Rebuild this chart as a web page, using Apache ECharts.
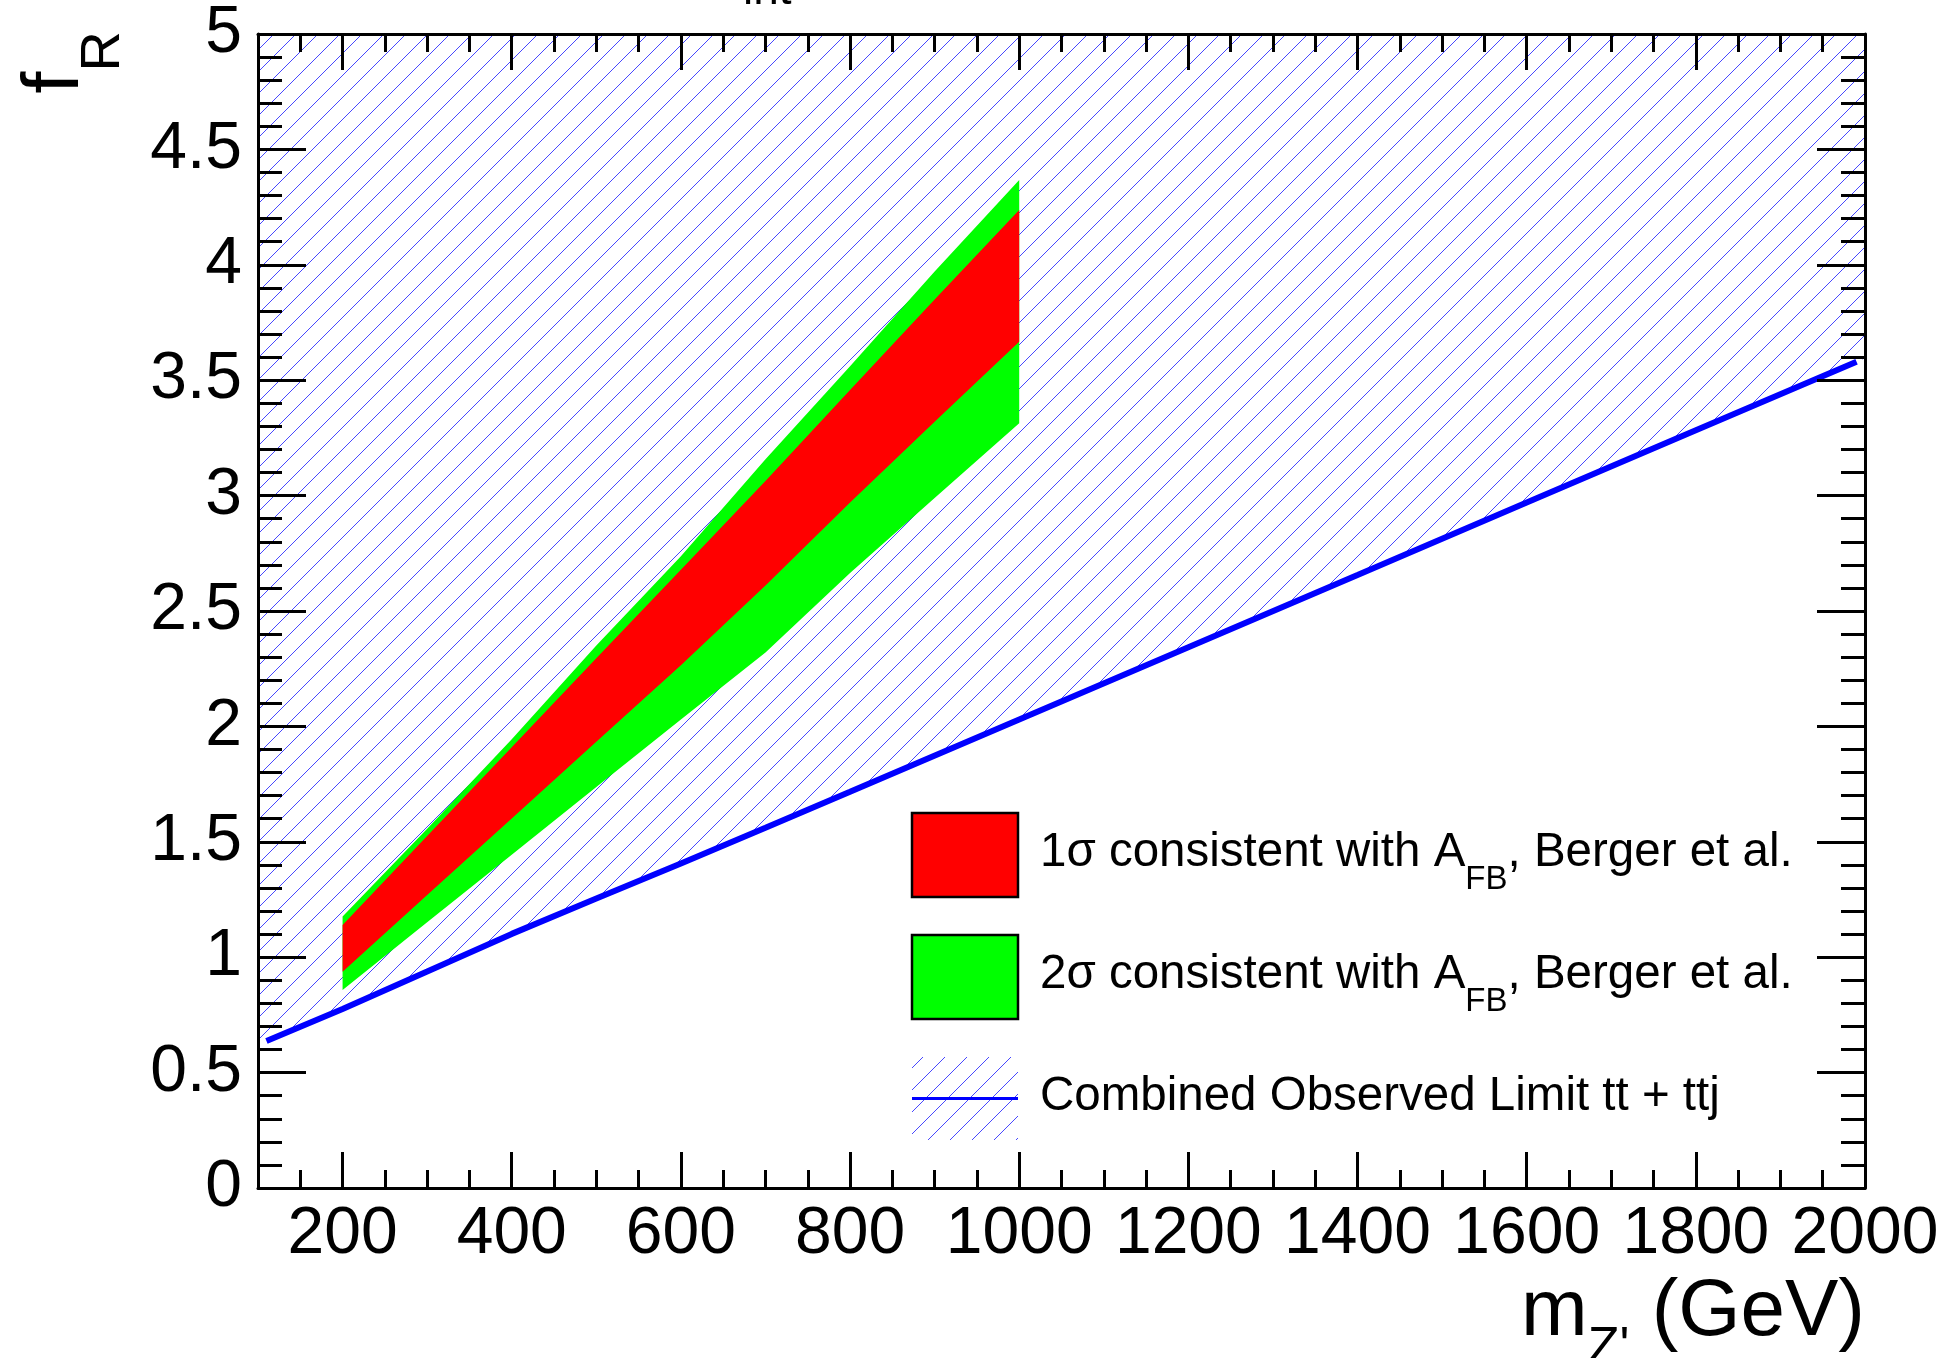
<!DOCTYPE html>
<html>
<head>
<meta charset="utf-8">
<title>f_R vs m_Z'</title>
<script src="https://cdn.jsdelivr.net/npm/echarts@6/dist/echarts.min.js"></script>
<style>
  html, body { margin: 0; padding: 0; background: #ffffff; }
  #chart { width: 1953px; height: 1358px; }
</style>
</head>
<body>
<div id="chart"></div>
<script>
// Z' masses (GeV) at which the A_FB-consistent region is evaluated
const bandMass = [200, 300, 400, 500, 600, 700, 800, 900, 1000];
// 2 sigma band (upper / lower edge in f_R)
const sigma2High = [1.176, 1.557, 1.944, 2.351, 2.737, 3.157, 3.560, 3.971, 4.367];
const sigma2Low  = [0.858, 1.151, 1.444, 1.737, 2.030, 2.320, 2.665, 2.990, 3.313];
// 1 sigma band (upper / lower edge in f_R)
const sigma1High = [1.140, 1.525, 1.910, 2.295, 2.679, 3.063, 3.458, 3.850, 4.237];
const sigma1Low  = [0.937, 1.269, 1.601, 1.933, 2.265, 2.611, 2.970, 3.320, 3.667];

// Combined observed limit tt + ttj
const limitMass = [110, 200, 300, 400, 500, 600, 700, 800, 1000, 1200, 1400, 1600, 1800, 1990];
const limitF    = [0.637, 0.776, 0.938, 1.101, 1.254, 1.406, 1.561, 1.717, 2.030, 2.343, 2.656, 2.970, 3.283, 3.580];

// Axis tick labels
const massTicks = [200, 400, 600, 800, 1000, 1200, 1400, 1600, 1800, 2000];
const fTicks = [0, 0.5, 1, 1.5, 2, 2.5, 3, 3.5, 4, 4.5, 5];

const MASS_MIN = 100, MASS_MAX = 2000, F_MIN = 0, F_MAX = 5;
const FONT = '"Liberation Sans", Arial, Helvetica, sans-serif';

// minor tick positions
const massMinor = [];
for (let v = 150; v < MASS_MAX; v += 50) massMinor.push(v);
const fMinor = [];
for (let i = 1; i < 50; i++) fMinor.push(i / 10);

// diagonal hatch used for the excluded region
function makeHatchTile() {
  const size = 22;
  const c = document.createElement('canvas');
  c.width = size; c.height = size;
  const ctx = c.getContext('2d');
  ctx.strokeStyle = 'rgba(0, 0, 255, 0.72)';
  ctx.lineWidth = 1;
  for (const k of [-size, 0, size]) {
    ctx.beginPath();
    ctx.moveTo(-2 + k, size + 2);
    ctx.lineTo(size + 2 + k, -2);
    ctx.stroke();
  }
  return c;
}
const hatchFill = { image: makeHatchTile(), repeat: 'repeat' };

const tickStyle = { color: '#000', width: 3 };
const labelStyle = { fontFamily: FONT, fontSize: 66, color: '#000' };

function massAxis(position, tickValues, tickLen, withLabels, withLine) {
  return {
    type: 'value', position, min: MASS_MIN, max: MASS_MAX, z: 10,
    axisLine: { show: withLine, onZero: false, lineStyle: tickStyle },
    axisTick: { show: true, inside: true, length: tickLen, customValues: tickValues, lineStyle: tickStyle },
    axisLabel: withLabels
      ? Object.assign({ show: true, customValues: massTicks, margin: 14, formatter: v => String(v) }, labelStyle)
      : { show: false },
    splitLine: { show: false }
  };
}
function fAxis(position, tickValues, tickLen, withLabels, withLine) {
  return {
    type: 'value', position, min: F_MIN, max: F_MAX, z: 10,
    axisLine: { show: withLine, onZero: false, lineStyle: tickStyle },
    axisTick: { show: true, inside: true, length: tickLen, customValues: tickValues, lineStyle: tickStyle },
    axisLabel: withLabels
      ? Object.assign({ show: true, customValues: fTicks, margin: 16, formatter: v => String(v) }, labelStyle)
      : { show: false },
    splitLine: { show: false }
  };
}

// closed polygon drawn through the cartesian coordinate system
function polygonSeries(name, z, points, fill) {
  return {
    name, type: 'custom', coordinateSystem: 'cartesian2d', xAxisIndex: 0, yAxisIndex: 0,
    z, silent: true, clip: true,
    data: [points[0]],
    renderItem: (params, api) => ({
      type: 'polygon',
      shape: { points: points.map(p => api.coord(p)) },
      style: { fill }
    })
  };
}

function bandPoints(upper, lower) {
  const top = bandMass.map((m, i) => [m, upper[i]]);
  const bottom = bandMass.map((m, i) => [m, lower[i]]).reverse();
  return top.concat(bottom);
}

// excluded region: everything above the observed limit, carried out to the frame
const nL = limitMass.length;
const slopeLeft = (limitF[1] - limitF[0]) / (limitMass[1] - limitMass[0]);
const slopeRight = (limitF[nL - 1] - limitF[nL - 2]) / (limitMass[nL - 1] - limitMass[nL - 2]);
const excludedPoints = [[MASS_MIN, limitF[0] + (MASS_MIN - limitMass[0]) * slopeLeft]]
  .concat(limitMass.map((m, i) => [m, limitF[i]]))
  .concat([[MASS_MAX, limitF[nL - 1] + (MASS_MAX - limitMass[nL - 1]) * slopeRight], [MASS_MAX, F_MAX], [MASS_MIN, F_MAX]]);

const legendText = { fontFamily: FONT, fontSize: 47.5, lineHeight: 47.5, fill: '#000', align: 'left', verticalAlign: 'middle' };
const subStyle = { fontFamily: FONT, fontSize: 33, lineHeight: 33, padding: [34, 0, 0, 0], verticalAlign: 'top' };

const chart = echarts.init(document.getElementById('chart'), null, { renderer: 'canvas', width: 1953, height: 1358 });

chart.setOption({
  animation: false,
  backgroundColor: '#ffffff',
  grid: { left: 258, top: 34, width: 1607, height: 1154, containLabel: false, show: false },
  xAxis: [
    massAxis('bottom', massTicks, 36, true, true),
    massAxis('bottom', massMinor, 18, false, false),
    massAxis('top', massTicks, 36, false, true),
    massAxis('top', massMinor, 18, false, false)
  ],
  yAxis: [
    fAxis('left', fTicks, 48, true, true),
    fAxis('left', fMinor, 24, false, false),
    fAxis('right', fTicks, 48, false, true),
    fAxis('right', fMinor, 24, false, false)
  ],
  series: [
    polygonSeries('Combined Observed Limit tt + ttj (excluded)', 1, excludedPoints, hatchFill),
    polygonSeries('2σ consistent with A_FB', 2, bandPoints(sigma2High, sigma2Low), '#00ff00'),
    polygonSeries('1σ consistent with A_FB', 3, bandPoints(sigma1High, sigma1Low), '#ff0000'),
    {
      name: 'Combined Observed Limit tt + ttj', type: 'line', xAxisIndex: 0, yAxisIndex: 0, z: 4,
      data: limitMass.map((m, i) => [m, limitF[i]]),
      showSymbol: false, symbol: 'none', silent: true,
      lineStyle: { color: '#0000ff', width: 6 }
    }
  ],
  graphic: [
    // y-axis title
    {
      type: 'text', x: 56, y: 31, rotation: Math.PI / 2, z: 20,
      style: {
        text: '{f|f}{r|R}', align: 'right', verticalAlign: 'middle', fill: '#000',
        fontFamily: FONT, fontSize: 80,
        rich: {
          f: { fontFamily: FONT, fontSize: 80, lineHeight: 80 },
          r: { fontFamily: FONT, fontSize: 56, lineHeight: 56, padding: [60, 0, 0, 0], verticalAlign: 'top' }
        }
      }
    },
    // x-axis title
    {
      type: 'text', x: 1865, y: 1313, z: 20,
      style: {
        text: "{m|m}{s|Z'}{m| (GeV)}", align: 'right', verticalAlign: 'middle', fill: '#000',
        fontFamily: FONT, fontSize: 80,
        rich: {
          m: { fontFamily: FONT, fontSize: 80, lineHeight: 80 },
          s: { fontFamily: FONT, fontSize: 52, lineHeight: 52, padding: [50, 0, 0, 0], verticalAlign: 'top' }
        }
      }
    },
    // subscript of the luminosity label running off the top edge
    {
      type: 'text', x: 743, y: -9, z: 20,
      style: { text: 'int', fontFamily: FONT, fontSize: 46, fill: '#000', align: 'left', verticalAlign: 'middle' }
    },
    // legend: 1 sigma
    {
      type: 'rect', z: 20, shape: { x: 912, y: 813, width: 106, height: 84 },
      style: { fill: '#ff0000', stroke: '#000', lineWidth: 2.5 }
    },
    {
      type: 'text', x: 1040, y: 853, z: 20,
      style: Object.assign({ text: '1σ consistent with A{s|FB}, Berger et al.', rich: { s: subStyle } }, legendText)
    },
    // legend: 2 sigma
    {
      type: 'rect', z: 20, shape: { x: 912, y: 935, width: 106, height: 84 },
      style: { fill: '#00ff00', stroke: '#000', lineWidth: 2.5 }
    },
    {
      type: 'text', x: 1040, y: 975, z: 20,
      style: Object.assign({ text: '2σ consistent with A{s|FB}, Berger et al.', rich: { s: subStyle } }, legendText)
    },
    // legend: observed limit
    {
      type: 'rect', z: 20, shape: { x: 912, y: 1057, width: 106, height: 83 },
      style: { fill: hatchFill }
    },
    {
      type: 'line', z: 21, shape: { x1: 912, y1: 1098.5, x2: 1018, y2: 1098.5 },
      style: { stroke: '#0000ff', lineWidth: 3 }
    },
    {
      type: 'text', x: 1040, y: 1097, z: 20,
      style: Object.assign({ text: 'Combined Observed Limit tt + ttj' }, legendText)
    }
  ]
});
</script>
</body>
</html>
